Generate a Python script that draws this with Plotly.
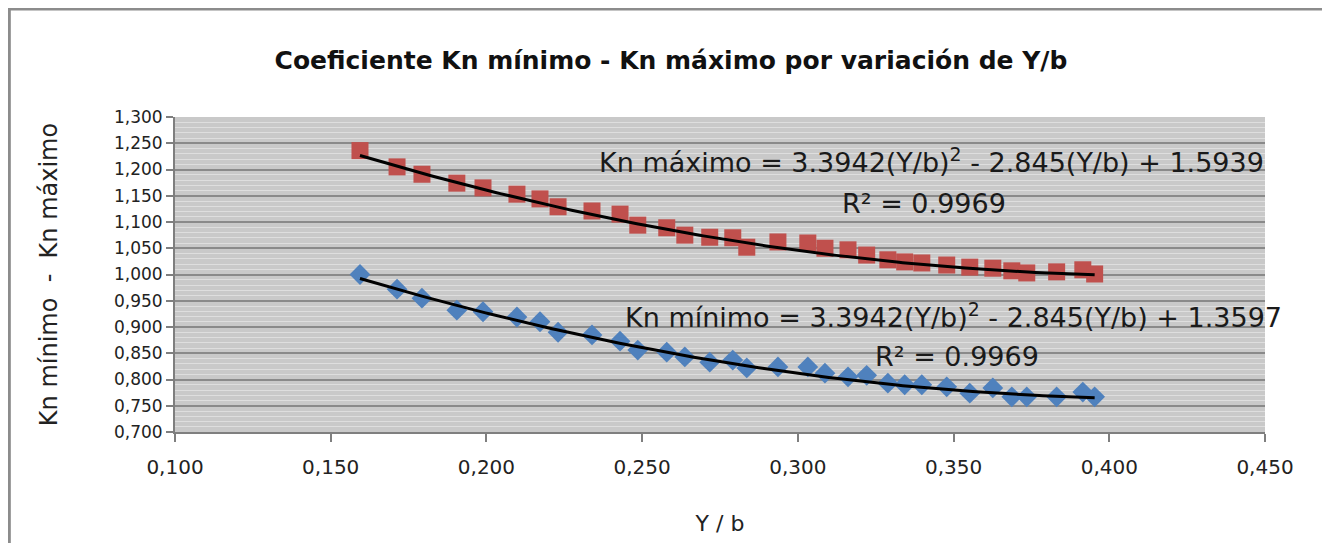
import numpy as np
import plotly.graph_objects as go

# Y/b values (shared by both series)
yb = [0.1594, 0.1713, 0.1793, 0.1905, 0.1989, 0.2098, 0.2172, 0.2230, 0.2339, 0.2429,
      0.2486, 0.2579, 0.2637, 0.2717, 0.2791, 0.2836, 0.2936, 0.3032, 0.3087, 0.3161,
      0.3221, 0.3289, 0.3343, 0.3398, 0.3478, 0.3552, 0.3626, 0.3687, 0.3735, 0.3831,
      0.3915, 0.3953]

kn_max = [1.236, 1.205, 1.191, 1.174, 1.165, 1.153, 1.144, 1.129, 1.121, 1.115,
          1.094, 1.089, 1.075, 1.071, 1.070, 1.052, 1.062, 1.060, 1.050, 1.047,
          1.037, 1.028, 1.024, 1.022, 1.018, 1.014, 1.012, 1.007, 1.003, 1.005,
          1.009, 1.001]

kn_min = [1.000, 0.972, 0.955, 0.932, 0.929, 0.919, 0.910, 0.890, 0.885, 0.873,
          0.856, 0.852, 0.843, 0.833, 0.837, 0.822, 0.824, 0.824, 0.812, 0.805,
          0.808, 0.793, 0.790, 0.790, 0.786, 0.774, 0.784, 0.767, 0.767, 0.767,
          0.776, 0.767]

# Trendline coefficients (a, b, c) from the chart labels
coef_max = [3.3942, -2.845, 1.5939]
coef_min = [3.3942, -2.845, 1.3597]

x_ticks = [0.100, 0.150, 0.200, 0.250, 0.300, 0.350, 0.400, 0.450]
y_ticks = [0.700, 0.750, 0.800, 0.850, 0.900, 0.950, 1.000, 1.050, 1.100, 1.150, 1.200, 1.250, 1.300]

xs = np.linspace(min(yb), max(yb), 200)
fit_max = np.polyval(coef_max, xs)
fit_min = np.polyval(coef_min, xs)

FONT = "DejaVu Sans"

fig = go.Figure()
fig.add_trace(go.Scatter(x=yb, y=kn_max, mode="markers",
                         marker=dict(symbol="square", size=17, color="#c0504d"),
                         name="Kn máximo", showlegend=False))
fig.add_trace(go.Scatter(x=yb, y=kn_min, mode="markers",
                         marker=dict(symbol="diamond", size=16, color="#4f81bd"),
                         name="Kn mínimo", showlegend=False))
fig.add_trace(go.Scatter(x=xs, y=fit_max, mode="lines",
                         line=dict(color="#000000", width=3), showlegend=False))
fig.add_trace(go.Scatter(x=xs, y=fit_min, mode="lines",
                         line=dict(color="#000000", width=3), showlegend=False))

ann_font = dict(family=FONT, size=27, color="#1a1a1a")
fig.add_annotation(x=0.6936, y=1.218, xref="paper", yref="y", xanchor="center", yanchor="middle",
                   text="Kn máximo = 3.3942(Y/b)<sup>2</sup> - 2.845(Y/b) + 1.5939",
                   showarrow=False, font=ann_font)
fig.add_annotation(x=0.3405, y=1.135, xref="x", yref="y", xanchor="center", yanchor="middle",
                   text="R² = 0.9969", showarrow=False, font=ann_font)
fig.add_annotation(x=0.7142, y=0.921, xref="paper", yref="y", xanchor="center", yanchor="middle",
                   text="Kn mínimo = 3.3942(Y/b)<sup>2</sup> - 2.845(Y/b) + 1.3597",
                   showarrow=False, font=ann_font)
fig.add_annotation(x=0.351, y=0.843, xref="x", yref="y", xanchor="center", yanchor="middle",
                   text="R² = 0.9969", showarrow=False, font=ann_font)

# chart outer frame
fig.add_shape(type="rect", xref="paper", yref="paper", x0=-0.152, x1=1.058, y0=-0.40, y1=1.343,
              line=dict(color="#8c8c8c", width=3), fillcolor="rgba(0,0,0,0)", layer="below")

fig.update_layout(
    width=1322, height=535,
    margin=dict(l=167, r=65, t=109, b=111),
    paper_bgcolor="#ffffff",
    plot_bgcolor="#c9c9c9",
    separators=",.",
    title=dict(text="<b>Coeficiente Kn mínimo - Kn máximo por variación de Y/b</b>",
               x=0.5015, xref="container", xanchor="center", y=0.903, yref="container",
               yanchor="middle",
               font=dict(family=FONT, size=25, color="#111111")),
    font=dict(family=FONT, color="#222222"),
)
fig.update_xaxes(range=[0.100, 0.450], tickvals=x_ticks, tickformat=".3f",
                 showgrid=False, zeroline=False,
                 showline=True, linecolor="#7f7f7f", linewidth=2,
                 ticks="outside", ticklen=8, tickcolor="#7f7f7f", tickwidth=2,
                 ticklabelstandoff=8,
                 tickfont=dict(family=FONT, size=20, color="#222222"),
                 title=dict(text="Y / b", font=dict(family=FONT, size=22, color="#222222"),
                            standoff=38))
fig.update_yaxes(range=[0.700, 1.300], tickvals=y_ticks, tickformat=".3f",
                 showgrid=True, gridcolor="#8a8a8a", gridwidth=2, zeroline=False,
                 minor=dict(dtick=0.01, showgrid=True, gridcolor="#dedede", gridwidth=1),
                 showline=True, linecolor="#7f7f7f", linewidth=2,
                 ticks="outside", ticklen=7, tickcolor="#7f7f7f", tickwidth=2,
                 tickfont=dict(family=FONT, size=17, color="#222222"),
                 title=dict(text="Kn mínimo\u00a0\u00a0-\u00a0\u00a0Kn máximo",
                            font=dict(family=FONT, size=24, color="#222222"), standoff=50))

fig.write_html("out.html")
